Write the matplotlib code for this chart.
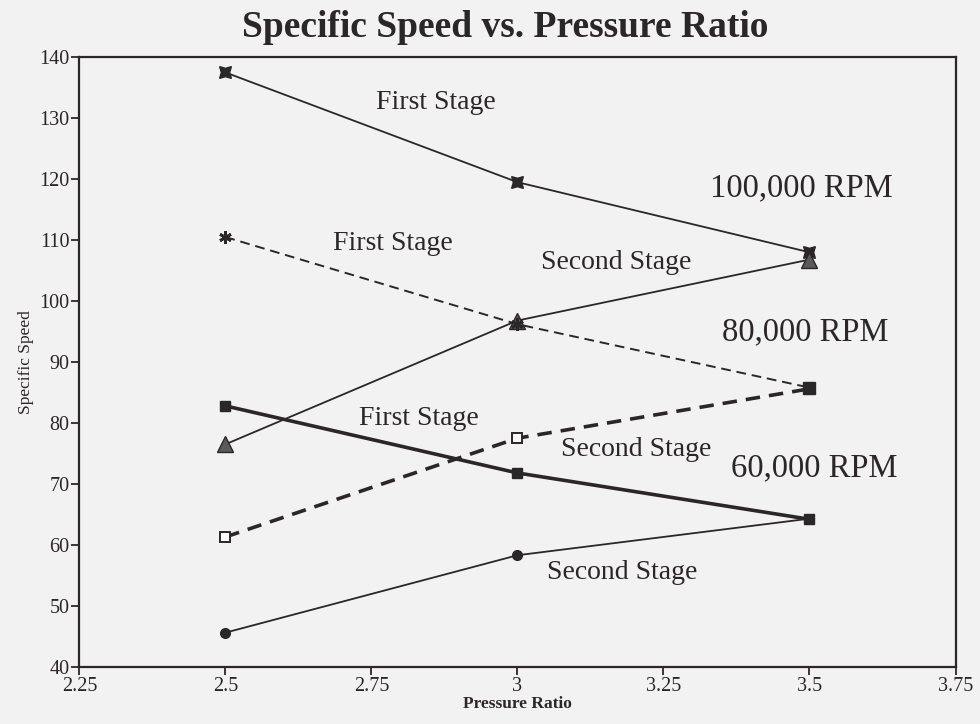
import matplotlib.pyplot as plt

plt.rcParams['font.family'] = ['Liberation Serif', 'DejaVu Serif']

pressure_ratio = [2.5, 3.0, 3.5]

rpm100_first = [137.5, 119.5, 108.0]
rpm100_second = [76.5, 96.8, 106.8]
rpm80_first = [110.5, 96.2, 85.8]
rpm80_second = [61.3, 77.5, 85.6]
rpm60_first = [82.8, 71.8, 64.2]
rpm60_second = [45.6, 58.3, 64.3]

ink = '#2b2628'
bg = '#f3f2f2'

fig = plt.figure(figsize=(9.8, 7.24), dpi=100, facecolor=bg)
ax = fig.add_axes([0.081, 0.079, 0.894, 0.842], facecolor=bg)

# 100,000 RPM
ax.plot(pressure_ratio, rpm100_first, color=ink, lw=1.3, marker=(4, 1, 45),
        ms=12, mfc=ink, mec=ink)
ax.plot(pressure_ratio, rpm100_second, color=ink, lw=1.3, marker='^',
        ms=12, mfc='#5a5a5a', mec=ink)
# 80,000 RPM
ax.plot(pressure_ratio, rpm80_first, color=ink, lw=1.4, ls=(0, (5, 3)),
        marker=(6, 2, 0), ms=9, mec=ink, mew=2)
ax.plot(pressure_ratio, rpm80_second, color=ink, lw=2.6, ls=(0, (4, 2.5)),
        marker='s', ms=7, mfc='white', mec=ink, mew=1.4)
ax.plot([pressure_ratio[-1]], [rpm80_first[-1]], ls='none', marker='s',
        ms=8, color=ink)
# 60,000 RPM
ax.plot(pressure_ratio, rpm60_first, color=ink, lw=2.6, marker='s',
        ms=7, mfc=ink, mec=ink)
ax.plot(pressure_ratio, rpm60_second, color=ink, lw=1.3, marker='o',
        ms=7, mfc=ink, mec=ink)

lab = dict(fontsize=20, color=ink, ha='left', va='center')
ax.text(2.757, 132.5, 'First Stage', **lab)
ax.text(2.685, 109.5, 'First Stage', **lab)
ax.text(3.041, 106.4, 'Second Stage', **lab)
ax.text(2.728, 80.8, 'First Stage', **lab)
ax.text(3.074, 75.6, 'Second Stage', **lab)
ax.text(3.050, 55.4, 'Second Stage', **lab)

rpm = dict(fontsize=23.5, color=ink, ha='left', va='center')
ax.text(3.330, 118.5, '100,000 RPM', **rpm)
ax.text(3.351, 94.9, '80,000 RPM', **rpm)
ax.text(3.365, 72.6, '60,000 RPM', **rpm)

ax.set_xlim(2.25, 3.75)
ax.set_ylim(40, 140)
ax.set_xticks([2.25, 2.5, 2.75, 3.0, 3.25, 3.5, 3.75])
ax.set_xticklabels(['2.25', '2.5', '2.75', '3', '3.25', '3.5', '3.75'])
ax.set_yticks(range(40, 141, 10))
ax.tick_params(direction='out', length=6, width=1.3, colors=ink,
               labelsize=14.5, pad=1)

for s in ax.spines.values():
    s.set_color(ink)
    s.set_linewidth(1.6)

ax.set_xlabel('Pressure Ratio', fontsize=12.5, fontweight='bold', color=ink,
              labelpad=0)
ax.set_ylabel('Specific Speed', fontsize=12.5, color=ink, labelpad=4)
fig.text(0.515, 0.962, 'Specific Speed vs. Pressure Ratio', fontsize=27,
         fontweight='semibold', color=ink, ha='center', va='center')

fig.savefig('out.png', dpi=100, facecolor=bg)
